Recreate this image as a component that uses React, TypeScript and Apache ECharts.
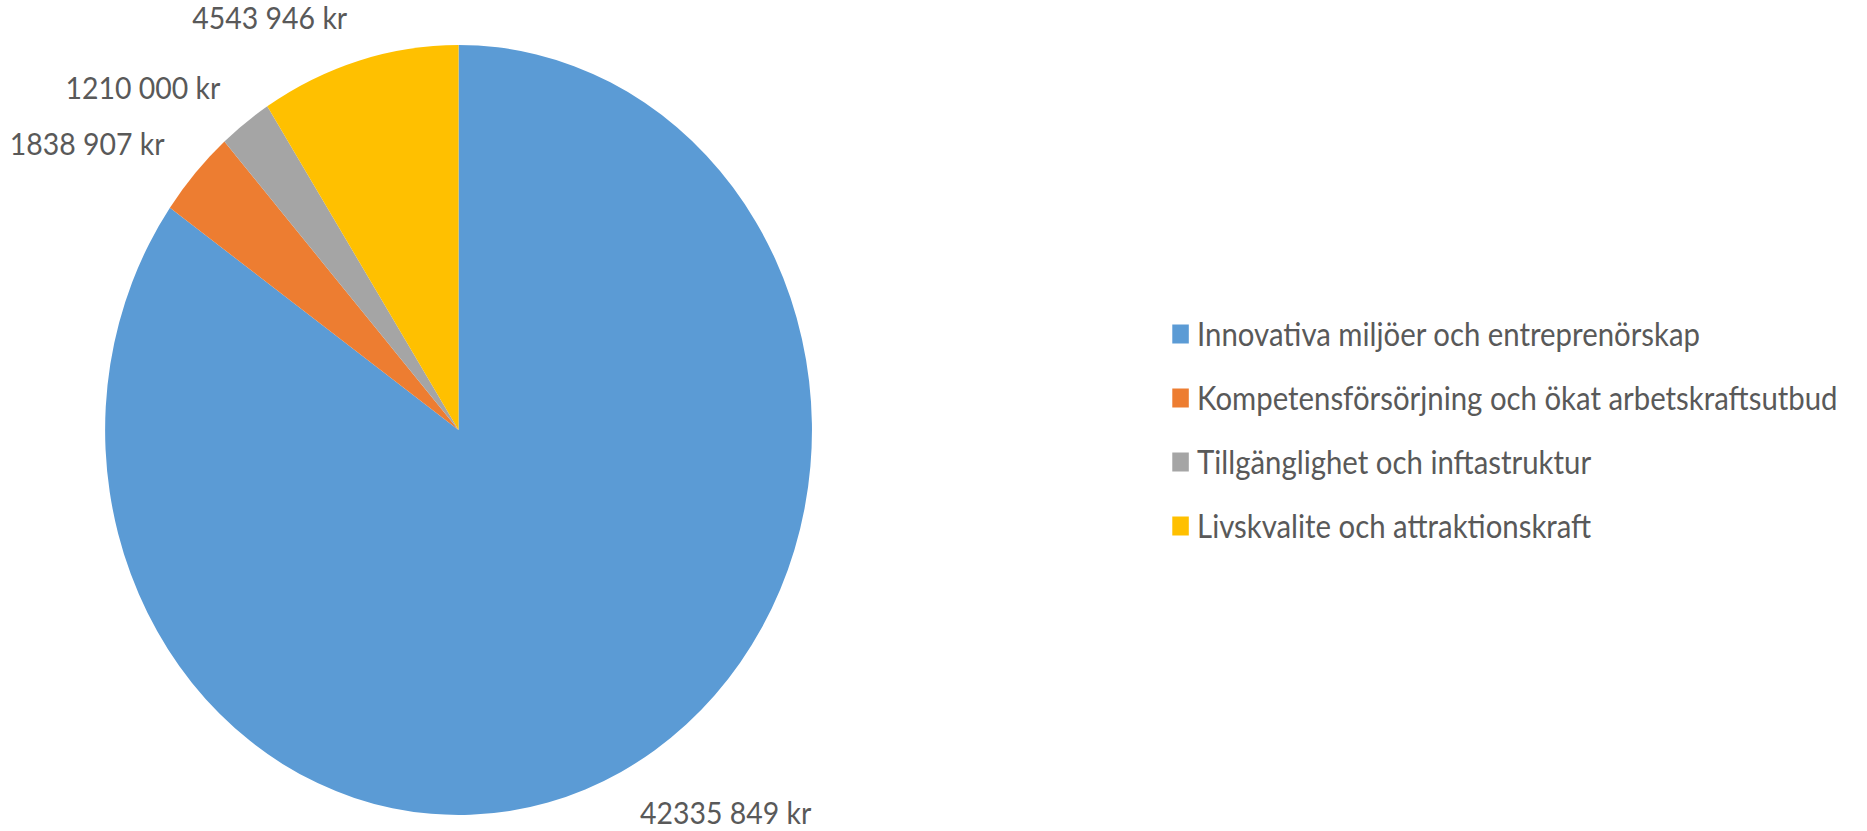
import React, { useEffect, useRef } from "react";
import * as echarts from "echarts";

const categories = [
  "Innovativa miljöer och entreprenörskap",
  "Kompetensförsörjning och ökat arbetskraftsutbud",
  "Tillgänglighet och inftastruktur",
  "Livskvalite och attraktionskraft",
];
const values = [42335849, 1838907, 1210000, 4543946];
const colors = ["#5B9BD5", "#ED7D31", "#A5A5A5", "#FFC000"];

const SQUEEZE = 0.918;
const W = 1867;
const H = 831;

function fmt(v: number): string {
  const hi = Math.floor(v / 1000);
  const lo = String(v % 1000).padStart(3, "0");
  return `${hi} ${lo} kr`;
}

export default function App() {
  const ref = useRef<HTMLDivElement>(null);
  useEffect(() => {
    if (!ref.current) return;
    const chart = echarts.init(ref.current, undefined, { renderer: "svg" });
    const font = "Lato";
    chart.setOption({
      animation: false,
      backgroundColor: "#ffffff",
      color: colors,
      legend: {
        orient: "vertical",
        left: 1272,
        top: 313,
        itemWidth: 18,
        itemHeight: 19,
        itemGap: 32,
        icon: "rect",
        data: categories,
        textStyle: {
          fontFamily: font,
          fontSize: 32,
          lineHeight: 30,
          color: "#595959",
          padding: [0, 0, 0, 4],
        },
      },
      series: [
        {
          type: "pie",
          center: [499.5, 430],
          radius: 385,
          startAngle: 90,
          clockwise: true,
          avoidLabelOverlap: false,
          itemStyle: { borderWidth: 0 },
          label: {
            show: true,
            position: "outside",
            formatter: (p: any) => fmt(p.value),
            fontFamily: font,
            fontSize: 31,
            color: "#595959",
            distanceToLabelLine: 0,
          },
          labelLine: { show: false, length: 45, length2: 0 },
          emphasis: { disabled: true },
          data: categories.map((name, i) => ({ name, value: values[i] })),
        },
      ],
    });
    return () => chart.dispose();
  }, []);
  return (
    <div
      style={{
        position: "fixed",
        left: 0,
        top: 0,
        width: W,
        height: H,
        overflow: "hidden",
        background: "#ffffff",
      }}
    >
      <div
        ref={ref}
        style={{
          width: Math.round(W / SQUEEZE),
          height: H,
          transform: `scaleX(${SQUEEZE})`,
          transformOrigin: "0 0",
        }}
      />
    </div>
  );
}
